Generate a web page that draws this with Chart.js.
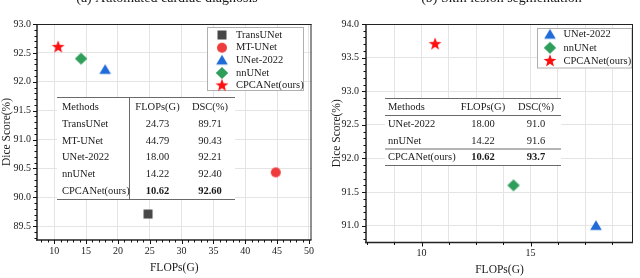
<!DOCTYPE html>
<html>
<head>
<meta charset="utf-8">
<script src="https://cdn.jsdelivr.net/npm/chart.js@4.4.1/dist/chart.umd.min.js"></script>
<style>
  html, body { margin: 0; padding: 0; background: #fff; }
  #wrap { display: flex; width: 640px; height: 278px; }
  canvas { display: block; }
</style>
</head>
<body>
<div id="wrap">
  <canvas id="chartA" width="320" height="278"></canvas>
  <canvas id="chartB" width="320" height="278"></canvas>
</div>
<script>
const SERIF = '"Liberation Serif", "DejaVu Serif", serif';
const INK = '#1a1a1a';

// (a) Automated cardiac diagnosis
const methodsA = ['TransUNet', 'MT-UNet', 'UNet-2022', 'nnUNet', 'CPCANet(ours)'];
const flopsA = [24.73, 44.79, 18.00, 14.22, 10.62];
const dscA = [89.71, 90.43, 92.21, 92.40, 92.60];
const xTicksA = [10, 15, 20, 25, 30, 35, 40, 45, 50];
const yTicksA = [89.5, 90.0, 90.5, 91.0, 91.5, 92.0, 92.5, 93.0];

// (b) Skin lesion segmentation
const methodsB = ['UNet-2022', 'nnUNet', 'CPCANet(ours)'];
const flopsB = [18.00, 14.22, 10.62];
const dscB = [91.0, 91.6, 93.7];
const xTicksB = [10, 15];
const xGridB = [8.75, 10, 11.25, 12.5, 13.75, 15, 16.25, 17.5, 18.75];
const yTicksB = [91.0, 91.5, 92.0, 92.5, 93.0, 93.5, 94.0];

// marker look per method
const looks = {
  'TransUNet':     { shape: 'rect',     color: '#474747' },
  'MT-UNet':       { shape: 'circle',   color: '#ef3b3b' },
  'UNet-2022':     { shape: 'triangle', color: '#1f6bd8' },
  'nnUNet':        { shape: 'diamond',  color: '#2f9e5b' },
  'CPCANet(ours)': { shape: 'star',     color: '#ff1010' }
};

function makeMarker(shape, color) {
  const c = document.createElement('canvas');
  c.width = 16; c.height = 16;
  const g = c.getContext('2d');
  g.fillStyle = color;
  g.translate(8, 8);
  g.beginPath();
  if (shape === 'rect') g.rect(-4.5, -4.5, 9, 9);
  else if (shape === 'circle') g.arc(0, 0, 5, 0, Math.PI * 2);
  else if (shape === 'triangle') { g.moveTo(0, -5.5); g.lineTo(5.8, 4.2); g.lineTo(-5.8, 4.2); g.closePath(); }
  else if (shape === 'diamond') { g.moveTo(0, -6); g.lineTo(6.2, 0); g.lineTo(0, 6); g.lineTo(-6.2, 0); g.closePath(); }
  else if (shape === 'star') {
    for (let i = 0; i < 10; i++) {
      const r = i % 2 ? 2.8 : 6.8;
      const a = -Math.PI / 2 + i * Math.PI / 5;
      g.lineTo(r * Math.cos(a), r * Math.sin(a));
    }
    g.closePath();
  }
  g.fill();
  return c;
}
const markers = {};
Object.keys(looks).forEach(k => { markers[k] = makeMarker(looks[k].shape, looks[k].color); });

function datasets(methods, flops, dsc) {
  return methods.map((m, i) => ({
    label: m,
    data: [{ x: flops[i], y: dsc[i] }],
    pointStyle: markers[m],
    pointRadius: 6,
    pointHoverRadius: 6,
    showLine: false
  }));
}

function text(ctx, s, x, y, align, size, bold) {
  ctx.font = (bold ? 'bold ' : '') + size + 'px ' + SERIF;
  ctx.textAlign = align;
  ctx.textBaseline = 'middle';
  ctx.fillStyle = INK;
  ctx.fillText(s, x, y);
}

function hline(ctx, x0, x1, y) { ctx.beginPath(); ctx.moveTo(x0, y); ctx.lineTo(x1, y); ctx.stroke(); }
function vline(ctx, x, y0, y1) { ctx.beginPath(); ctx.moveTo(x, y0); ctx.lineTo(x, y1); ctx.stroke(); }

const decor = {
  id: 'decor',
  afterDatasetsDraw(chart, args, o) {
    const ctx = chart.ctx;
    const xs = chart.scales.x, ys = chart.scales.y;
    const { left, right, top, bottom } = chart.chartArea;
    ctx.save();

    // table
    const t = o.table;
    ctx.fillStyle = '#fff';
    ctx.fillRect(t.x0, t.top, t.x1 - t.x0, t.bottom - t.top);
    ctx.strokeStyle = '#6a6a6a';
    ctx.lineWidth = 1;
    t.lines.forEach(y => hline(ctx, t.x0, t.x1, y));
    if (t.sep) vline(ctx, t.sep, t.top, t.bottom);
    text(ctx, 'Methods', t.cols[0], t.rows[0], 'left', 10.5);
    text(ctx, 'FLOPs(G)', t.cols[1], t.rows[0], 'center', 10.5);
    text(ctx, 'DSC(%)', t.cols[2], t.rows[0], 'center', 10.5);
    o.methods.forEach((m, i) => {
      const best = i === o.methods.length - 1;
      const y = t.rows[i + 1];
      text(ctx, m, t.cols[0], y, 'left', 10.5);
      text(ctx, o.flops[i].toFixed(2), t.cols[1], y, 'center', 10.5, best);
      text(ctx, o.dsc[i].toFixed(o.digits), t.cols[2], y, 'center', 10.5, best);
    });

    // legend
    const L = o.legend;
    ctx.fillStyle = '#fff';
    ctx.fillRect(L.x0, L.y0, L.x1 - L.x0, L.y1 - L.y0);
    ctx.strokeStyle = '#b0b0b0';
    ctx.strokeRect(L.x0 + 0.5, L.y0 + 0.5, L.x1 - L.x0 - 1, L.y1 - L.y0 - 1);
    o.methods.forEach((m, i) => {
      const y = L.ys[i];
      const mk = markers[m];
      ctx.drawImage(mk, L.mx - mk.width / 2, y - mk.height / 2);
      text(ctx, m, L.tx, y, 'left', 10.5);
    });

    // frame
    ctx.strokeStyle = '#222';
    ctx.lineWidth = 1;
    hline(ctx, left, right, top + 0.5);
    vline(ctx, right - 0.5, top, bottom);
    ctx.lineWidth = 1.5;
    hline(ctx, left - 0.75, right, bottom);
    vline(ctx, left, top, bottom + 0.75);

    // tick marks, major and minor, pointing out
    ctx.lineWidth = 1;
    ctx.strokeStyle = '#111';
    const isMajor = (list, v) => list.some(m => Math.abs(m - v) < 1e-6);
    ctx.beginPath();
    for (let k = Math.ceil(xs.min / o.xMinor); k * o.xMinor <= xs.max + 1e-9; k++) {
      const v = k * o.xMinor;
      const px = Math.round(xs.getPixelForValue(v)) + 0.5;
      const len = isMajor(o.xMajor, v) ? 4 : 2.5;
      ctx.moveTo(px, bottom); ctx.lineTo(px, bottom + len);
    }
    for (let k = Math.ceil(ys.min / o.yMinor - 1e-6); k * o.yMinor <= ys.max + 1e-9; k++) {
      const v = k * o.yMinor;
      const py = Math.round(ys.getPixelForValue(v)) + 0.5;
      const len = isMajor(o.yMajor, v) ? 4 : 2.5;
      ctx.moveTo(left, py); ctx.lineTo(left - len, py);
    }
    ctx.stroke();

    // panel caption, cut at the top edge
    ctx.font = '14px ' + SERIF;
    ctx.textAlign = 'center';
    ctx.textBaseline = 'alphabetic';
    ctx.fillStyle = INK;
    ctx.fillText(o.caption, o.captionX, 2);
    ctx.restore();
  }
};

function xAxis(min, max, grid, labels, pad, titlePad, height) {
  return {
    type: 'linear', min, max,
    afterBuildTicks: s => { s.ticks = grid.map(v => ({ value: v })); },
    afterFit: s => { s.height = height; },
    ticks: {
      autoSkip: false, maxRotation: 0, padding: pad, color: INK,
      font: { family: SERIF, size: 10 },
      callback: v => labels.includes(v) ? String(v) : ''
    },
    grid: { color: '#e4e4e4', lineWidth: 1, drawTicks: false },
    border: { display: false },
    title: { display: true, text: 'FLOPs(G)', color: INK, font: { family: SERIF, size: 11.5 }, padding: { top: 0, bottom: titlePad } }
  };
}

function yAxis(min, max, ticks, pad, titlePad, width) {
  return {
    type: 'linear', min, max,
    afterBuildTicks: s => { s.ticks = ticks.map(v => ({ value: v })); },
    afterFit: s => { s.width = width; },
    ticks: {
      autoSkip: false, padding: pad, color: INK,
      font: { family: SERIF, size: 10 },
      callback: v => Number(v).toFixed(1)
    },
    grid: { color: '#e4e4e4', lineWidth: 1, drawTicks: false },
    border: { display: false },
    title: { display: true, text: 'Dice Score(%)', color: INK, font: { family: SERIF, size: 11.5 }, padding: { top: titlePad, bottom: 0 } }
  };
}

new Chart(document.getElementById('chartA'), {
  type: 'scatter',
  data: { datasets: datasets(methodsA, flopsA, dscA) },
  options: {
    responsive: false,
    animation: false,
    layout: { padding: { left: 0, right: 8.5, top: 24, bottom: 0 } },
    scales: {
      x: xAxis(7.3, 50.4, xTicksA, xTicksA, 5, 3, 38),
      y: yAxis(89.26, 93.0, yTicksA, 6, 0, 37)
    },
    plugins: {
      legend: { display: false },
      tooltip: { enabled: false },
      decor: {
        methods: methodsA, flops: flopsA, dsc: dscA, digits: 2,
        xMajor: xTicksA, xMinor: 1, yMajor: yTicksA, yMinor: 0.1,
        caption: '(a) Automated cardiac diagnosis', captionX: 167,
        legend: { x0: 207, x1: 304, y0: 27, y1: 91, mx: 222, tx: 236, ys: [35, 47.7, 60.3, 73, 85.5] },
        table: {
          x0: 57, x1: 235, top: 97.5, bottom: 199.5,
          lines: [97.5, 199.5], sep: 129.5,
          cols: [62, 157.5, 210],
          rows: [107, 124.5, 141, 157.5, 174, 191]
        }
      }
    }
  },
  plugins: [decor]
});

new Chart(document.getElementById('chartB'), {
  type: 'scatter',
  data: { datasets: datasets(methodsB, flopsB, dscB) },
  options: {
    responsive: false,
    animation: false,
    layout: { padding: { left: 0, right: 3, top: 24, bottom: 0 } },
    scales: {
      x: xAxis(7.45, 19.7, xGridB, xTicksB, 4.5, 1, 35.5),
      y: yAxis(90.75, 94.0, yTicksB, 7, 10, 46)
    },
    plugins: {
      legend: { display: false },
      tooltip: { enabled: false },
      decor: {
        methods: methodsB, flops: flopsB, dsc: dscB, digits: 1,
        xMajor: xTicksB, xMinor: 1.25, yMajor: yTicksB, yMinor: 0.1,
        caption: '(b) Skin lesion segmentation', captionX: 181.5,
        legend: { x0: 217, x1: 312.5, y0: 28, y1: 68.5, mx: 230, tx: 243.5, ys: [34.5, 47.8, 61] },
        table: {
          x0: 65, x1: 241, top: 98.5, bottom: 165.5,
          lines: [98.5, 115.5, 149, 165.5], sep: null,
          cols: [68, 163, 216],
          rows: [107.5, 124.5, 141, 157.5]
        }
      }
    }
  },
  plugins: [decor]
});
</script>
</body>
</html>
